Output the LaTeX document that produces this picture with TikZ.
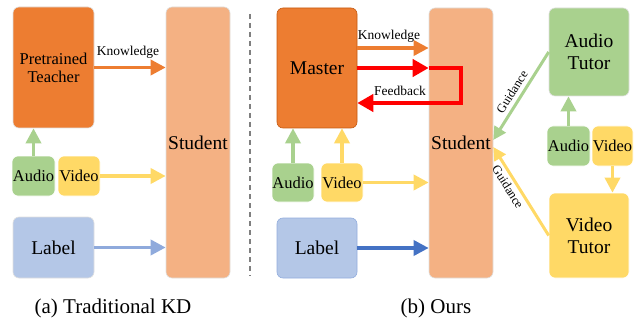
\documentclass[tikz,border=0pt]{standalone}
\usepackage{fontspec}
\setmainfont{Liberation Serif}
\usetikzlibrary{arrows.meta,calc}
\definecolor{cOrange}{HTML}{ED7D31}
\definecolor{cOrangeD}{HTML}{C55A11}
\definecolor{cStudent}{HTML}{F4B183}
\definecolor{cGreen}{HTML}{A9D18E}
\definecolor{cYellow}{HTML}{FFD966}
\definecolor{cBlue}{HTML}{B4C7E7}
\definecolor{cBlueA}{HTML}{8FAADC}
\definecolor{cBlueB}{HTML}{4472C4}
\definecolor{cRed}{HTML}{FF0000}
\definecolor{cGray}{HTML}{7F7F7F}
\begin{document}
\begin{tikzpicture}[x=1pt,y=-1pt,
  box/.style={rectangle, rounded corners=6pt, draw=black!12, line width=0.6pt, inner sep=0pt, align=center, text=black},
  big/.style={font=\rmfamily\fontsize{19.5}{22}\selectfont},
  mid/.style={font=\rmfamily\fontsize{16.5}{19}\selectfont},
  small/.style={font=\rmfamily\fontsize{13.5}{15}\selectfont},
  tiny/.style={font=\rmfamily\fontsize{12.5}{14}\selectfont},
  fat/.style={line width=3.5pt, -{Triangle[length=15pt,width=15pt]}},
  slim/.style={line width=3pt, -{Triangle[length=13pt,width=13pt]}},
  redarr/.style={draw=cRed, line width=4pt, line join=miter, -{Triangle[length=16pt,width=17pt]}}
]
\useasboundingbox (0,0) rectangle (638,321);

% ---------- left panel ----------
\node[box, fill=cOrange, minimum width=81pt, minimum height=121pt, mid] (teacher) at (53.5,67.5) {Pretrained\\[-1pt]Teacher};
\node[box, fill=cStudent, minimum width=64pt, minimum height=271pt, big] (studentA) at (198,142.5) {Student};
\node[box, draw=white, fill=cGreen, minimum width=43pt, minimum height=40pt, mid] (audioA) at (33.5,176) {Audio};
\node[box, draw=white, fill=cYellow, minimum width=42pt, minimum height=40pt, mid] (videoA) at (79,176) {Video};
\node[box, fill=cBlue, minimum width=81pt, minimum height=61pt, big] (labelA) at (53.5,247.5) {Label};

\draw[fat, draw=cOrange] (teacher.east) -- (teacher.east -| studentA.west);
\node[small] (knowA) at (128,52) {Knowledge};
\draw[fat, draw=cGreen] (audioA.north) -- (audioA.north |- teacher.south);
\draw[fat, draw=cYellow] (videoA.east) -- (videoA.east -| studentA.west);
\draw[fat, draw=cBlueA] (labelA.east) -- (labelA.east -| studentA.west);

\node[font=\rmfamily\fontsize{21}{24}\selectfont] (capA) at (113,308) {(a) Traditional KD};

% divider
\draw[cGray, line width=1.5pt, dash pattern=on 5pt off 4pt] (250,14) -- (250,276);

% ---------- right panel ----------
\node[box, draw=cOrangeD, fill=cOrange, minimum width=80pt, minimum height=120pt, big] (master) at (317,68) {Master};
\node[box, fill=cStudent, minimum width=64pt, minimum height=270pt, big] (studentB) at (461,143) {Student};
\node[box, draw=white, fill=cGreen, minimum width=42pt, minimum height=39pt, mid] (audioB) at (293,182.5) {Audio};
\node[box, draw=white, fill=cYellow, minimum width=42pt, minimum height=39pt, mid] (videoB) at (342,182.5) {Video};
\node[box, draw=cBlue!70!cBlueB, fill=cBlue, minimum width=80pt, minimum height=60pt, big] (labelB) at (317,248) {Label};

\node[box, fill=cGreen, minimum width=80pt, minimum height=88pt, big] (audioT) at (589,52) {Audio\\[0pt]Tutor};
\node[box, draw=white, fill=cGreen, minimum width=43pt, minimum height=40pt, mid] (audioC) at (568.5,146) {Audio};
\node[box, draw=white, fill=cYellow, minimum width=41pt, minimum height=40pt, mid] (videoC) at (612.5,146) {Video};
\node[box, draw=white, fill=cYellow, minimum width=80pt, minimum height=85pt, big] (videoT) at (589,235.5) {Video\\[0pt]Tutor};

% knowledge
\draw[fat, draw=cOrange] ($(master.east)+(0,-20)$) -- ($(master.east -| studentB.west)+(0,-20)$);
\node[small] (knowB) at (389,36) {Knowledge};

% feedback loop
\coordinate (loopA) at (studentB.center |- master.east);
\coordinate (loopB) at ($(loopA)+(0,35)$);
\draw[redarr] (master.east) -- (master.east -| studentB.west);
\draw[redarr] (master.east -| studentB.west) -- (loopA) -- (loopB) -- (loopB -| master.east);
\node[small] (fb) at (400,91) {Feedback};

% inputs
\draw[fat, draw=cGreen] (audioB.north) -- (audioB.north |- master.south);
\draw[fat, draw=cYellow] (videoB.north) -- (videoB.north |- master.south);
\draw[fat, draw=cYellow] (videoB.east) -- (videoB.east -| studentB.west);
\draw[fat, draw=cBlueB] (labelB.east) -- (labelB.east -| studentB.west);

% tutors
\draw[fat, draw=cGreen] (audioC.north) -- (audioC.north |- audioT.south);
\draw[fat, draw=cYellow] (videoC.south) -- (videoC.south |- videoT.north);
\draw[slim, draw=cGreen] (audioT.west) -- ($(studentB.east)+(0,-3)$);
\draw[slim, draw=cYellow] (videoT.west) -- ($(studentB.east)+(0,4)$);
\node[tiny, rotate=58] (guideA) at (512,92) {Guidance};
\node[tiny, rotate=-58] (guideB) at (508,187) {Guidance};

\node[font=\rmfamily\fontsize{21}{24}\selectfont] (capB) at (436,308) {(b) Ours};
\end{tikzpicture}
\end{document}
